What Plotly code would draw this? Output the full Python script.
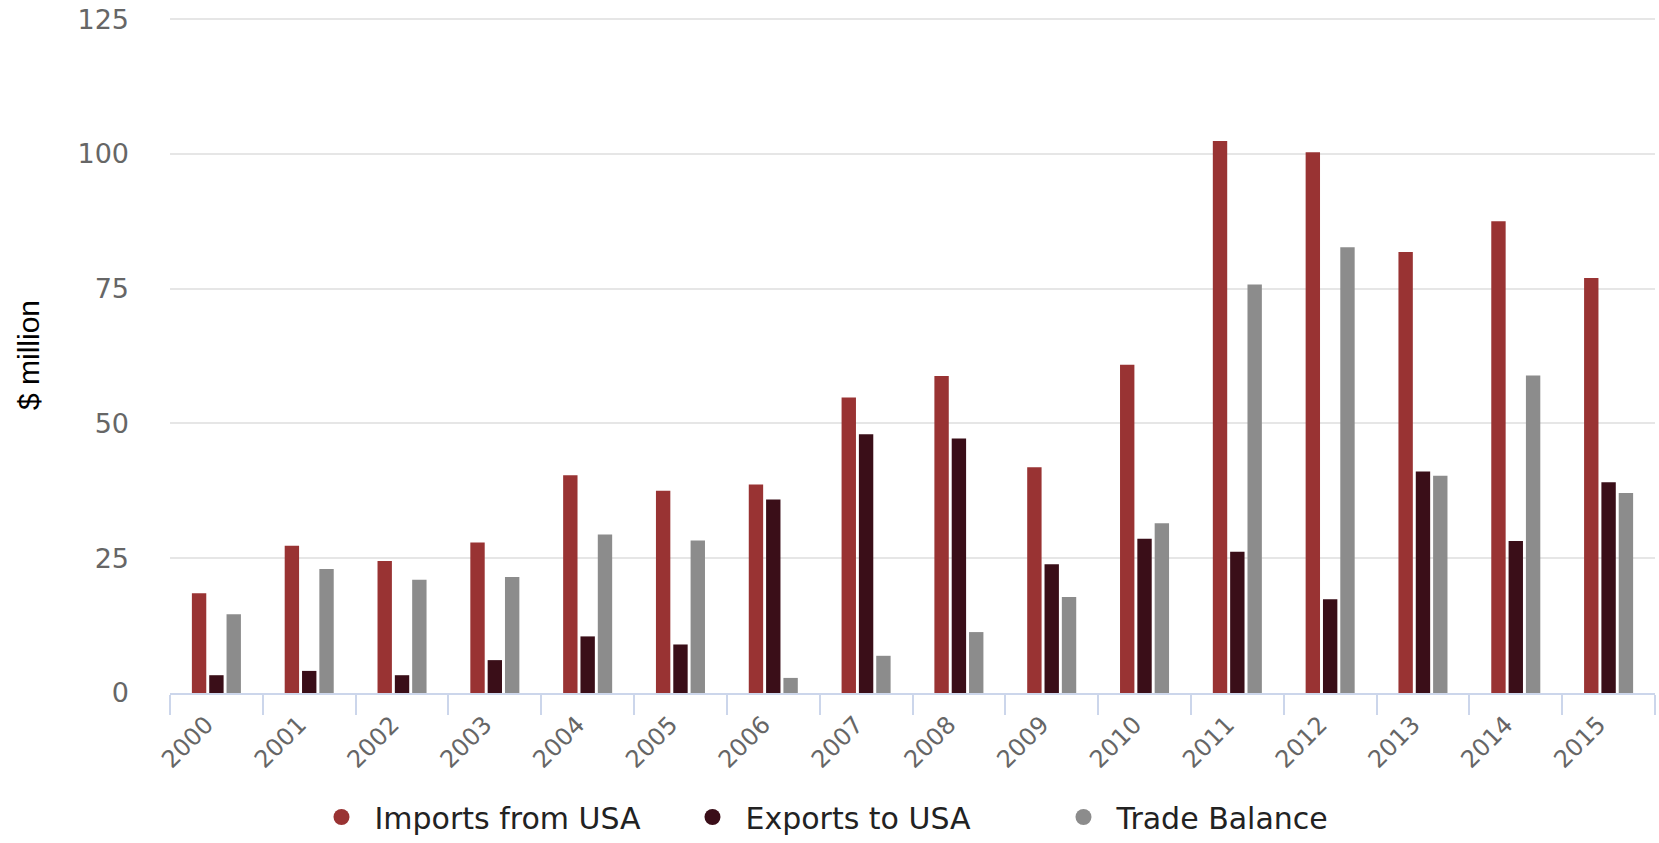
import plotly.graph_objects as go

years = [str(y) for y in range(2000, 2016)]
imports_from_usa = [18.5, 27.3, 24.5, 27.9, 40.4, 37.5, 38.7, 54.8, 58.8, 41.9, 60.9, 102.4, 100.3, 81.8, 87.5, 77.0]
exports_to_usa = [3.3, 4.1, 3.3, 6.1, 10.5, 9.0, 35.9, 48.0, 47.2, 23.9, 28.6, 26.2, 17.4, 41.1, 28.2, 39.1]
trade_balance = [14.6, 23.0, 21.0, 21.5, 29.4, 28.3, 2.8, 6.9, 11.3, 17.8, 31.5, 75.8, 82.7, 40.3, 58.9, 37.1]

series_names = ["Imports from USA", "Exports to USA", "Trade Balance"]
series_values = [imports_from_usa, exports_to_usa, trade_balance]
series_colors = ["#993333", "#3a0e18", "#8c8c8c"]

fig = go.Figure()
for name, vals, col in zip(series_names, series_values, series_colors):
    fig.add_trace(go.Bar(x=years, y=vals, name=name, marker=dict(color=col, line=dict(width=0)),
                         showlegend=False, legendgroup=name))
for name, col in zip(series_names, series_colors):
    fig.add_trace(go.Scatter(x=[None], y=[None], mode="markers", name=name, legendgroup=name,
                             marker=dict(symbol="circle", size=22, color=col), showlegend=True))

fig.update_layout(
    template="none",
    width=1659, height=843,
    margin=dict(l=170, r=4, t=17, b=150, autoexpand=False),
    paper_bgcolor="white", plot_bgcolor="white",
    barmode="group", bargap=0.44, bargroupgap=0.17,
    font=dict(family="DejaVu Sans", color="#666666"),
    showlegend=True,
    legend=dict(orientation="h", x=0.468, xanchor="center", yref="container", y=0.0, yanchor="bottom",
                font=dict(family="DejaVu Sans", size=30, color="#222222"),
                entrywidth=300, entrywidthmode="pixels", itemsizing="trace", itemwidth=56),
)
fig.update_xaxes(
    type="category", tickangle=-45, tickson="boundaries", ticks="outside", ticklen=20,
    tickwidth=2, tickcolor="#ccd6eb", showline=True, linecolor="#ccd6eb", linewidth=2,
    showgrid=False, automargin=False, ticklabelstandoff=6, ticklabelshift=-10,
    tickfont=dict(family="DejaVu Sans", size=24, color="#666666"),
)
fig.update_yaxes(
    range=[0, 125.4], tickvals=[0, 25, 50, 75, 100, 125], showgrid=True, gridcolor="#e6e6e6",
    gridwidth=2, zeroline=False, showline=False, ticks="", ticklabelstandoff=40, automargin=False,
    tickfont=dict(family="DejaVu Sans", size=27, color="#666666"),
    title=dict(text="$ million", font=dict(family="Liberation Sans", size=30, color="#000000"), standoff=28),
)
fig.write_html("out.html", config={"displayModeBar": False},
               post_script="document.body.style.margin='0';")
